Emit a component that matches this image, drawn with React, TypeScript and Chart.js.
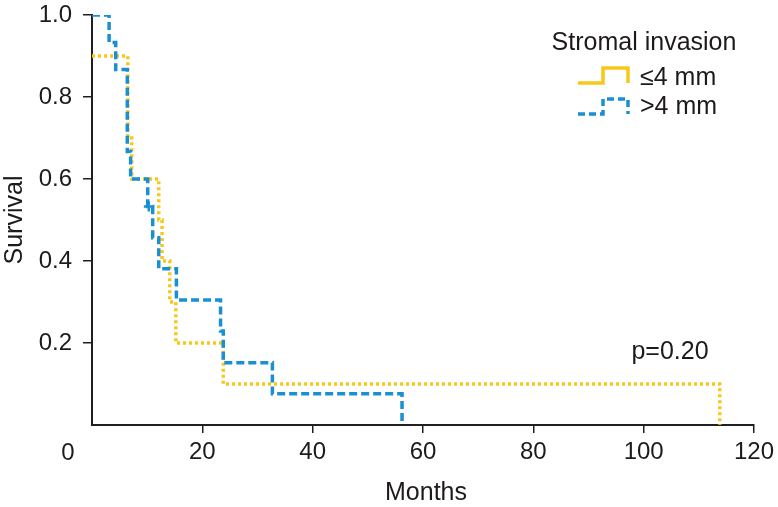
import React, { useEffect, useRef } from "react";
import { Chart, registerables } from "chart.js";

Chart.register(...registerables);

// ---- data ----
const smallTimes = [0, 6.5, 7.2, 12.1, 12.7, 14.1, 15.2, 23.8, 113.8];
const smallSurv = [0.9, 0.7, 0.6, 0.5, 0.4, 0.3, 0.2, 0.1, 0];
const largeTimes = [0, 3.1, 4.3, 6.4, 7.0, 10.1, 11.0, 12.1, 15.3, 23.3, 23.8, 32.7, 56.2];
const largeSurv = [1, 0.933, 0.867, 0.667, 0.6, 0.533, 0.457, 0.381, 0.305, 0.229, 0.152, 0.076, 0];
const censorTimes = [10.3];
const censorSurv = [0.533];
const xTicks = [0, 20, 40, 60, 80, 100, 120];
const yTicks = [0, 0.2, 0.4, 0.6, 0.8, 1.0];
const seriesLabels = ["≤4 mm", ">4 mm"];
const legendTitle = "Stromal invasion";
const pValueText = "p=0.20";
const xTitle = "Months";
const yTitle = "Survival";

const YELLOW = "#f7c719";
const BLUE = "#1a8fd1";
const AXIS = "#231f20";
const TEXT = "#1e1a1b";
const FAMILY = "'Liberation Sans', Arial, Helvetica, sans-serif";

const overlayPlugin = {
  id: "overlay",
  afterDraw(chart: any) {
    const ctx = chart.ctx as CanvasRenderingContext2D;
    const xs = chart.scales.x;
    const area = chart.chartArea;
    ctx.save();
    ctx.fillStyle = TEXT;
    // origin "0" label shifted left
    ctx.font = `24px ${FAMILY}`;
    ctx.textAlign = "center";
    ctx.textBaseline = "middle";
    ctx.fillText(String(xTicks[0]), xs.getPixelForValue(0) - 24, 453);

    // axis titles
    ctx.font = `25px ${FAMILY}`;
    ctx.fillText(xTitle, (area.left + area.right) / 2 + 3, 493);
    ctx.save();
    ctx.translate(15, 220);
    ctx.rotate(-Math.PI / 2);
    ctx.fillText(yTitle, 0, 0);
    ctx.restore();

    // p value
    ctx.fillText(pValueText, 670, 352);

    // legend
    ctx.fillText(legendTitle, 644, 43);
    ctx.textAlign = "left";
    ctx.fillText(seriesLabels[0], 640, 78);
    ctx.fillText(seriesLabels[1], 640, 107);

    const drawIcon = (y0: number, color: string, dash: number[]) => {
      ctx.save();
      ctx.strokeStyle = color;
      ctx.lineWidth = 3.5;
      ctx.setLineDash(dash);
      ctx.beginPath();
      ctx.moveTo(578, y0);
      ctx.lineTo(603, y0);
      ctx.lineTo(603, y0 - 15);
      ctx.lineTo(628, y0 - 15);
      ctx.lineTo(628, y0);
      ctx.stroke();
      ctx.restore();
    };
    drawIcon(83, YELLOW, []);
    drawIcon(114, BLUE, [7, 4]);
    ctx.restore();
  },
};

export default function App() {
  const ref = useRef<HTMLCanvasElement | null>(null);

  useEffect(() => {
    if (!ref.current) return;
    const chart = new Chart(ref.current, {
      type: "line",
      data: {
        datasets: [
          {
            type: "scatter",
            label: "censored",
            data: censorTimes.map((t, i) => ({ x: t, y: censorSurv[i] })),
            pointStyle: "cross",
            pointRadius: 5,
            borderColor: BLUE,
            backgroundColor: BLUE,
            borderWidth: 2.5,
            showLine: false,
            order: 0,
          } as any,
          {
            label: seriesLabels[1],
            data: largeTimes.map((t, i) => ({ x: t, y: largeSurv[i] })),
            stepped: true,
            borderColor: BLUE,
            borderWidth: 3.5,
            borderDash: [8, 4],
            pointRadius: 0,
            fill: false,
            order: 1,
          },
          {
            label: seriesLabels[0],
            data: smallTimes.map((t, i) => ({ x: t, y: smallSurv[i] })),
            stepped: true,
            borderColor: YELLOW,
            borderWidth: 3.5,
            borderDash: [3, 3],
            pointRadius: 0,
            fill: false,
            order: 2,
          },
        ],
      },
      options: {
        animation: false,
        responsive: false,
        layout: { padding: { top: 15, right: 24, left: 0, bottom: 0 } },
        plugins: { legend: { display: false }, tooltip: { enabled: false } },
        scales: {
          x: {
            type: "linear",
            min: 0,
            max: 120,
            afterBuildTicks: (s: any) => {
              s.ticks = xTicks.map((v) => ({ value: v }));
            },
            afterFit: (s: any) => {
              s.height = 82;
              s.paddingLeft = 0;
              s.paddingRight = 0;
            },
            grid: {
              drawOnChartArea: false,
              drawTicks: true,
              tickLength: 8,
              lineWidth: 1.5,
              color: (c: any) => (c.tick && c.tick.value === 0 ? "rgba(0,0,0,0)" : AXIS),
            },
            border: { display: true, color: AXIS, width: 2 },
            ticks: {
              font: { family: FAMILY, size: 24 },
              color: TEXT,
              padding: 5,
              maxRotation: 0,
              autoSkip: false,
              callback: (v: any) => (v === 0 ? "" : String(v)),
            },
          },
          y: {
            type: "linear",
            min: 0,
            max: 1,
            afterBuildTicks: (s: any) => {
              s.ticks = yTicks.map((v) => ({ value: v }));
            },
            afterFit: (s: any) => {
              s.width = 92;
              s.paddingTop = 0;
              s.paddingBottom = 0;
            },
            grid: {
              drawOnChartArea: false,
              drawTicks: true,
              tickLength: 9,
              lineWidth: 1.5,
              color: (c: any) => (c.tick && c.tick.value === 0 ? "rgba(0,0,0,0)" : AXIS),
            },
            border: { display: true, color: AXIS, width: 2 },
            ticks: {
              font: { family: FAMILY, size: 24 },
              color: TEXT,
              padding: 11,
              autoSkip: false,
              callback: (v: any) => (v === 0 ? "" : Number(v).toFixed(1)),
            },
          },
        },
      },
      plugins: [overlayPlugin],
    } as any);
    return () => chart.destroy();
  }, []);

  return (
    <div style={{ position: "absolute", left: 0, top: 0, width: 778, height: 507, background: "#fff" }}>
      <canvas ref={ref} width={778} height={507} style={{ display: "block", width: 778, height: 507 }} />
    </div>
  );
}
